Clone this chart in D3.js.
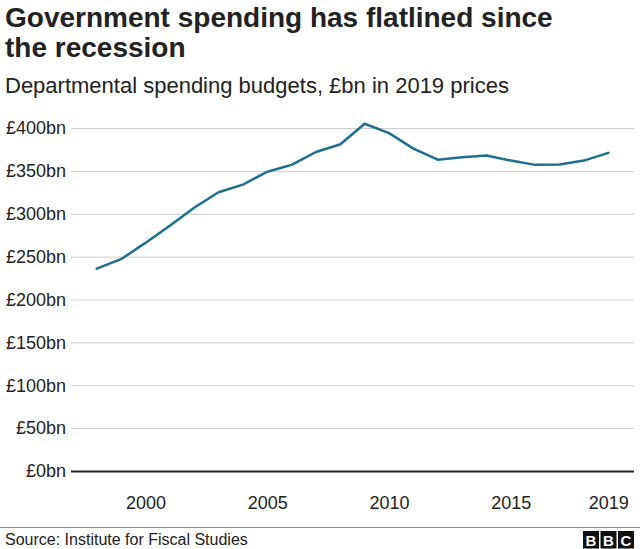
<!DOCTYPE html>
<html>
<head>
<meta charset="utf-8">
<script src="https://cdn.jsdelivr.net/npm/d3@7"></script>
<style>
  html, body { margin: 0; padding: 0; background: #fff; }
  svg { display: block; font-family: "Liberation Sans", Arial, Helvetica, sans-serif; }
</style>
</head>
<body>
<svg id="chart" width="640" height="549"></svg>
<script>
// Data
const years = [1998, 1999, 2000, 2001, 2002, 2003, 2004, 2005, 2006, 2007, 2008,
               2009, 2010, 2011, 2012, 2013, 2014, 2015, 2016, 2017, 2018, 2019];
const spending = [236, 247, 266, 286, 307, 325, 334, 349, 357, 372, 381,
                  405, 394, 376, 363, 366, 368, 362, 357, 357.5, 362, 371];
const yTicks = [0, 50, 100, 150, 200, 250, 300, 350, 400];
const xTicks = [2000, 2005, 2010, 2015, 2019];
const title = ["Government spending has flatlined since", "the recession"];
const subtitle = "Departmental spending budgets, £bn in 2019 prices";
const source = "Source: Institute for Fiscal Studies";

const svg = d3.select("#chart");

const x = d3.scaleLinear().domain([1998, 2019]).range([96.7, 608.3]);
const y = d3.scaleLinear().domain([0, 400]).range([471, 128]);
const gridX0 = 71, gridX1 = 634;

// Title
svg.append("g").selectAll("text").data(title).join("text")
  .attr("x", 5).attr("y", (d, i) => 27 + i * 30)
  .attr("font-size", 28).attr("font-weight", "bold").attr("fill", "#222")
  .text(d => d);

svg.append("text").attr("x", 5).attr("y", 93)
  .attr("font-size", 22).attr("fill", "#222").text(subtitle);

// Y axis with gridlines
const yAxis = d3.axisLeft(y).tickValues(yTicks)
  .tickSize(-(gridX1 - gridX0)).tickPadding(5)
  .tickFormat(d => "£" + d + "bn");
const gy = svg.append("g").attr("transform", `translate(${gridX0},0)`).call(yAxis);
gy.select(".domain").remove();
gy.selectAll(".tick line").attr("stroke", "#cccccc").attr("stroke-width", 1)
  .filter(d => d === 0).attr("stroke", "#222").attr("stroke-width", 2);
gy.selectAll(".tick text").attr("font-size", 18).attr("fill", "#222")
  .attr("font-family", "Liberation Sans, Arial, sans-serif");

// X axis
const xAxis = d3.axisBottom(x).tickValues(xTicks).tickSize(0).tickPadding(0)
  .tickFormat(d3.format("d"));
const gx = svg.append("g").attr("transform", "translate(0,496)").call(xAxis);
gx.select(".domain").remove();
gx.selectAll(".tick text").attr("font-size", 18).attr("fill", "#222")
  .attr("font-family", "Liberation Sans, Arial, sans-serif");

// Line
const line = d3.line().x((d, i) => x(years[i])).y(d => y(d));
svg.append("path").datum(spending)
  .attr("d", line).attr("fill", "none")
  .attr("stroke", "#1d6f8f").attr("stroke-width", 2.5)
  .attr("stroke-linejoin", "round").attr("stroke-linecap", "round");

// Footer
svg.append("line").attr("x1", 0).attr("x2", 640).attr("y1", 527.5).attr("y2", 527.5)
  .attr("stroke", "#888").attr("stroke-width", 1);
svg.append("text").attr("x", 5).attr("y", 545)
  .attr("font-size", 16).attr("fill", "#222").text(source);

const logo = svg.append("g").attr("transform", "translate(583,531)");
["B", "B", "C"].forEach((c, i) => {
  logo.append("rect").attr("x", i * 17.5).attr("y", 0).attr("width", 16).attr("height", 17.5)
    .attr("fill", "#111");
  logo.append("text").attr("x", i * 17.5 + 8).attr("y", 14.5)
    .attr("text-anchor", "middle").attr("font-size", 15).attr("font-weight", "bold")
    .attr("fill", "#fff").text(c);
});
</script>
</body>
</html>
